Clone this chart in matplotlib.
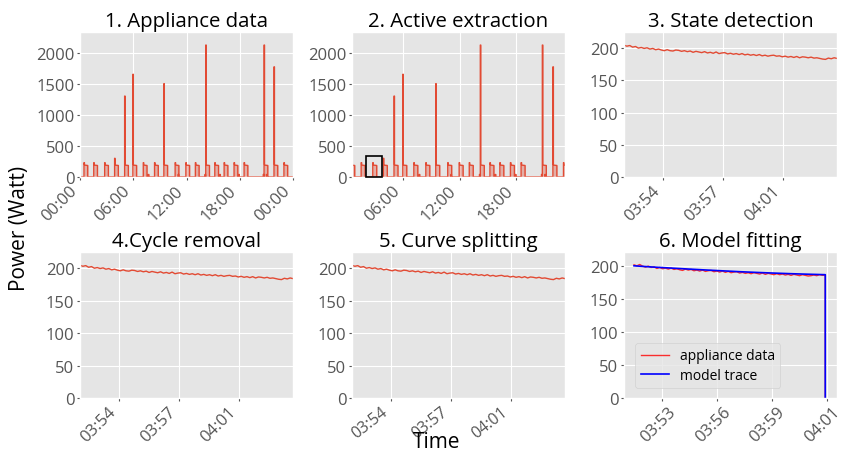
import numpy as np
import matplotlib
matplotlib.use("Agg")
import matplotlib.pyplot as plt
import matplotlib.transforms as mtransforms
from matplotlib.patches import Rectangle

plt.style.use("ggplot")
plt.rcParams["font.family"] = ["Open Sans", "DejaVu Sans"]

# ---------------- data: full day (hours) ----------------
cycle_start_h = [0.45, 1.55, 2.78, 3.90, 5.03, 5.96, 7.13, 8.40, 9.45, 10.72,
                 11.93, 13.00, 14.17, 15.19, 16.24, 17.36, 18.49, 20.74, 21.86, 22.98]
cycle_peak_w = [230, 230, 230, 300, 1300, 1650, 230, 230, 1500, 230,
                230, 230, 2120, 230, 230, 230, 230, 2120, 1770, 230]
blip_h = [7.70, 11.05, 14.08, 15.75, 17.89, 20.65, 21.00]
blip_w = [40, 40, 40, 40, 40, 40, 40]
cycle_mid_w = 200
cycle_end_w = 185
cycle_len_h = 0.42

day_ticks = [0, 6, 12, 18, 24]
day_labels = ["00:00", "06:00", "12:00", "18:00", "00:00"]
p2_xlim = (0.58, 23.14)
box_h = (2.03, 3.80)
box_w = 340

# ---------------- data: one cycle (minutes) ----------------
cyc_t0 = 1.74
cyc_dt = 12.39 / 74
cyc_w = [204.5, 203.0, 204.0, 201.5, 202.5, 200.0, 201.0, 199.5, 200.5, 198.5,
         199.5, 197.5, 198.5, 197.0, 196.0, 197.5, 196.0, 195.5, 197.0, 196.5,
         195.0, 196.0, 194.5, 195.5, 193.5, 195.0, 194.0, 193.0, 194.5, 192.5,
         193.5, 192.0, 194.0, 191.5, 192.5, 193.0, 191.0, 192.0, 190.5, 191.5,
         190.0, 191.5, 189.5, 190.5, 189.0, 190.0, 188.5, 190.0, 188.0, 189.0,
         187.5, 188.5, 189.0, 187.5, 188.0, 186.5, 187.5, 186.0, 187.0, 185.5,
         187.0, 185.0, 186.5, 186.0, 185.0, 186.0, 184.5, 185.0, 184.0, 183.0,
         182.5, 184.5, 183.5, 185.0, 184.0]
cyc_ticks = [4.0, 7.5, 11.0]
cyc_labels = ["03:54", "03:57", "04:01"]
cyc_xlim = (1.74, 14.13)

# ---------------- data: model fitting (minutes) ----------------
fit_t0 = 1.74
fit_dt = 11.26 / 67
fit_w = [202.5, 201.0, 203.0, 200.5, 199.0, 200.5, 198.5, 199.5, 197.0, 198.5,
         196.5, 197.5, 196.0, 197.5, 195.5, 196.5, 195.0, 194.0, 196.0, 194.5,
         195.5, 193.5, 194.5, 193.0, 194.5, 192.5, 193.5, 194.0, 192.0, 193.0,
         191.5, 193.0, 191.0, 192.5, 190.5, 191.5, 192.0, 190.0, 191.0, 189.5,
         190.5, 189.0, 190.5, 189.5, 188.5, 190.0, 188.0, 189.5, 188.5, 187.5,
         189.0, 187.5, 188.5, 187.0, 188.0, 186.5, 188.0, 187.0, 186.0, 187.5,
         186.5, 185.5, 186.0, 187.0, 186.0, 187.5, 186.5, 187.0]
model_t = [1.74, 2.8, 3.9, 5.0, 6.0, 7.0, 8.0, 9.0, 10.0, 11.0, 12.0, 13.0, 13.0]
model_w = [201.0, 199.2, 197.6, 196.0, 194.6, 193.3, 192.0, 190.9, 189.9, 189.0, 188.2, 187.5, 0.0]
fit_ticks = [3.40, 6.62, 9.85, 13.08]
fit_labels = ["03:53", "03:56", "03:59", "04:01"]
fit_xlim = (1.15, 13.69)

RED = "#E24A33"

# build day step series from cycle events
xs, ys = [0.0], [0.0]
events = sorted(list(zip(cycle_start_h, cycle_peak_w, ["c"] * len(cycle_start_h))) +
                list(zip(blip_h, blip_w, ["b"] * len(blip_h))))
for t, w, kind in events:
    if kind == "c":
        xs += [t, t, t + 0.05, t + 0.05, t + 0.12, t + cycle_len_h, t + cycle_len_h]
        ys += [0, w, w, cycle_mid_w, cycle_end_w + 5, cycle_end_w, 0]
    else:
        xs += [t, t, t + 0.06, t + 0.06]
        ys += [0, w, w, 0]
xs.append(24.0)
ys.append(0.0)
xs = np.array(xs)
ys = np.array(ys)

W, H = 843, 456
fig = plt.figure(figsize=(W / 100, H / 100), dpi=100)
lefts = [80, 352, 624]
aw = 213

TICK_FS = 12
TITLE_FS = 14.7


def mk(col, top, bot):
    return fig.add_axes([lefts[col] / W, 1 - bot / H, aw / W, (bot - top) / H])


axs = [mk(0, 33, 178), mk(1, 33, 178), mk(2, 33, 178),
       mk(0, 253, 399), mk(1, 253, 399), mk(2, 253, 399)]
titles = ["1. Appliance data", "2. Active extraction", "3. State detection",
          "4.Cycle removal", "5. Curve splitting", "6. Model fitting"]

for ax, t in zip(axs, titles):
    ax.set_title(t, fontsize=TITLE_FS, color="black", pad=4)
    ax.tick_params(labelsize=TICK_FS, colors="#555555", length=2, pad=2)

for i, ax in enumerate(axs[:2]):
    ax.fill_between(xs, ys, 0, color=RED, alpha=0.35, lw=0)
    ax.plot(xs, ys, color=RED, lw=1.0)
    ax.set_ylim(0, 2330)
    ax.set_yticks([0, 500, 1000, 1500, 2000])
    ax.set_xticks(day_ticks)
    ax.set_xticklabels(day_labels, rotation=45, ha="right")
axs[0].set_xlim(0, 24)
axs[1].set_xlim(*p2_xlim)
axs[1].add_patch(Rectangle((box_h[0], 0), box_h[1] - box_h[0], box_w,
                           fill=False, ec="black", lw=1.2, zorder=5, clip_on=False))

cx = cyc_t0 + cyc_dt * np.arange(len(cyc_w))
for k, ax in enumerate(axs[2:5]):
    ax.plot(cx, cyc_w, color=RED, lw=1.0)
    ax.set_xlim(*cyc_xlim)
    ax.set_ylim(0, 225)
    ax.set_yticks([0, 50, 100, 150, 200])
    ax.set_xticks(cyc_ticks)
    if k == 2:
        ax.set_xticklabels(cyc_labels, rotation=38, ha="right", fontsize=11.5)
    else:
        ax.set_xticklabels(cyc_labels, rotation=45, ha="right")

ax = axs[5]
fx = list(fit_t0 + fit_dt * np.arange(len(fit_w))) + [13.0]
fy = list(fit_w) + [0.0]
ax.plot(fx, fy, color="red", lw=1.0, alpha=0.8, label="appliance data")
ax.plot(model_t, model_w, color="blue", lw=1.2, label="model trace")
ax.set_xlim(*fit_xlim)
ax.set_ylim(0, 222)
ax.set_yticks([0, 50, 100, 150, 200])
ax.set_xticks(fit_ticks)
ax.set_xticklabels(fit_labels, rotation=45, ha="center")
shift = mtransforms.ScaledTranslation(-4 / 100, 0, fig.dpi_scale_trans)
for lab in ax.get_xticklabels():
    lab.set_transform(lab.get_transform() + shift)
ax.legend(loc="lower left", fontsize=10, bbox_to_anchor=(0.02, 0.02),
          handlelength=2.0, borderpad=0.4, labelspacing=0.3)

fig.text(20 / W, 0.5, "Power (Watt)", rotation=90, fontsize=15, ha="center", va="center")
fig.text(437 / W, 1 - 443 / H, "Time", fontsize=15, ha="center", va="center")

fig.savefig("out.png", dpi=100)
